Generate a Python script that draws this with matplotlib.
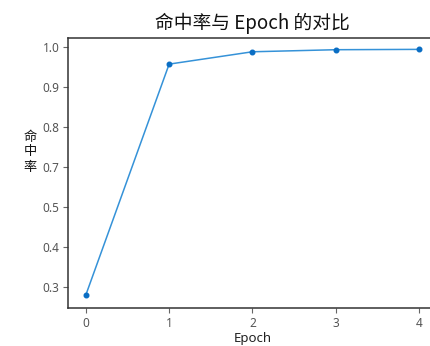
import matplotlib
matplotlib.use("Agg")
import matplotlib.pyplot as plt

# data
epochs = [0, 1, 2, 3, 4]
hit_rate = [0.276, 0.949, 0.985, 0.991, 0.992]

xtick_values = [0, 1, 2, 3, 4]
ytick_values = [0.3, 0.41667, 0.53333, 0.65, 0.76667, 0.88333, 1.0]
ytick_labels = ['0.3', '0.4', '0.5', '0.7', '0.8', '0.9', '1.0']

plt.rcParams['font.family'] = ['Noto Sans', 'Noto Sans CJK SC', 'DejaVu Sans']

fig = plt.figure(figsize=(4.30, 3.46), dpi=100)
ax = fig.add_axes([0.159, 0.109, 0.856, 0.782])

ax.plot(epochs, hit_rate, color='#3592d8', linewidth=1.1, zorder=2)
ax.plot(epochs, hit_rate, linestyle='none', marker='o', markersize=3.3,
        color='#0a6ec4', zorder=3)

ax.set_xlim(-0.21, 4.21)
ax.set_ylim(0.237, 1.026)
ax.set_xticks(xtick_values)
ax.set_yticks(ytick_values)
ax.set_yticklabels(ytick_labels)

for side in ['left', 'bottom', 'top', 'right']:
    ax.spines[side].set_color('#333333')
    ax.spines[side].set_linewidth(1.1)

ax.tick_params(axis='both', direction='out', length=3.5, width=0.8,
               color='#666666', labelcolor='#555555', labelsize=8.5, pad=3)

ax.set_title('命中率与 Epoch 的对比', fontsize=13.5, pad=6,
             family=['Noto Sans CJK SC'], color='#111111', weight='medium')
ax.set_xlabel('Epoch', fontsize=9.5, labelpad=1, color='#222222')

fig.text(30 / 430, 1 - 152 / 346, '命\n中\n率', fontsize=9.5, ha='center', va='center',
         family=['Noto Sans CJK SC'], linespacing=1.2, color='#111111', weight='medium')

fig.savefig('out.png', dpi=100)
